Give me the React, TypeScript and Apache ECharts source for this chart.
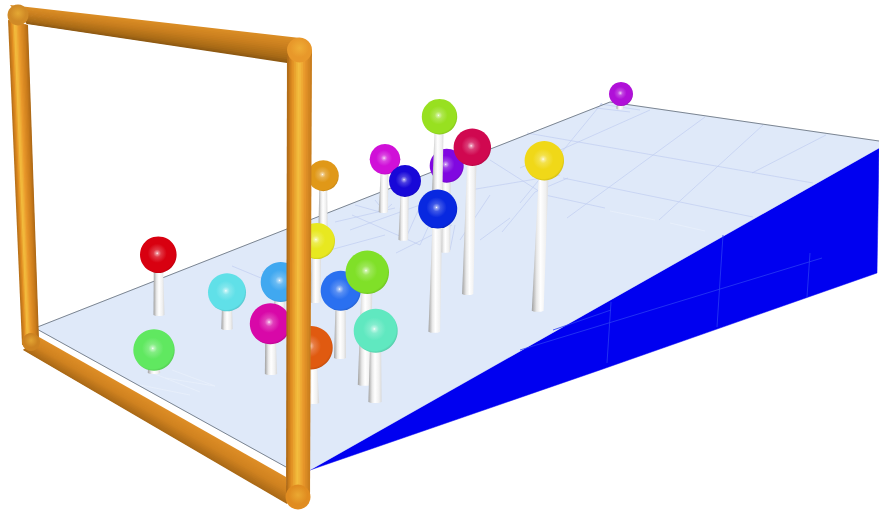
import React, { useEffect, useRef } from "react";
import * as echarts from "echarts";

const W = 879;
const H = 513;

// pin heads: position, radius, colour; stick foot position (back to front)
const pinNames = ["purple", "orange", "magenta", "violet", "limeTop", "navy", "crimson", "gold", "blue", "yellow", "sky", "red", "cyan", "azure", "lime", "ember", "fuchsia", "teal", "green"];
const headX = [621, 323.3, 385, 446.7, 439.5, 405, 472.3, 544.3, 437.7, 317, 280.7, 158.3, 227, 340.7, 367.3, 311, 270.3, 375.7, 154];
const headY = [94, 175.7, 159.3, 165.7, 116.7, 181, 147.3, 160.7, 209, 241, 282, 254.7, 292.3, 290.7, 272.3, 347.7, 323.7, 330.7, 350];
const headR = [12, 15.5, 15.3, 17, 17.7, 16, 18.7, 19.7, 19.5, 18, 20, 18.3, 19, 20, 21.7, 21.7, 20.5, 22, 20.7];
const footX = [620, 323, 383.3, 445, 437, 403.3, 467.7, 537.7, 434.3, 315, 279, 159, 227, 340, 364.3, 312.7, 271, 375, 154];
const footY = [109.5, 235, 213, 252.7, 200, 240.7, 295, 311.7, 332.7, 303, 320, 316, 330, 359, 385.7, 404, 375, 403, 374];
const headColor = ["#b010d8", "#e09818", "#d010d8", "#8008e0", "#98e020", "#1808d8", "#d00850", "#f0d818", "#0828e0", "#e8e820", "#40a8f0", "#d80010", "#60e0e8", "#2a70f0", "#80e028", "#e05a10", "#d808a8", "#60e8c0", "#60e860"];

// surfaces
const planeShape = [[35, 328], [610, 102], [879, 141], [879, 148], [310, 470], [286, 467]];
const wedgeShape = [[310, 470], [879, 148], [877, 273], [600, 370]];
const planeEdges = [[35, 328, 610, 102], [610, 102, 879, 141], [35, 328, 286, 467]];

// rules drawn on the surfaces
const planeRules = [
  [527, 133, 813, 183], [563, 178, 753, 217], [545, 195, 605, 208], [567, 218, 705, 117],
  [659, 220, 763, 125], [752, 173, 826, 135], [520, 203, 602, 103], [520, 168, 650, 110],
  [502, 232, 535, 192], [535, 192, 568, 178], [480, 240, 510, 218], [396, 253, 452, 225],
  [352, 215, 420, 245], [335, 222, 395, 208], [350, 230, 420, 205], [375, 200, 383, 210],
  [392, 204, 383, 212], [355, 205, 380, 212], [405, 240, 425, 195], [450, 250, 455, 225],
  [460, 240, 490, 195], [420, 245, 445, 190], [470, 190, 560, 175], [490, 160, 545, 195],
  [232, 266, 285, 288], [262, 272, 300, 258], [600, 104, 640, 110], [596, 108, 630, 112],
  [330, 250, 385, 235],
];
const paleRules = [
  [165, 378, 215, 386], [172, 370, 215, 386], [140, 385, 190, 395], [150, 372, 200, 392],
  [610, 211, 655, 220], [670, 223, 705, 231],
];
const wedgeRules = [
  [723, 235, 717, 327], [611, 302, 607, 363], [810, 253, 807, 297],
  [520, 350, 822, 258], [611, 310, 553, 330],
];

// frame tube: one edge start/end, other edge start/end
const frameTop = [10, 5, 300, 38, 27, 24, 287, 63];
const frameLeft = [8, 20, 22, 345, 28, 25, 39, 340];
const frameBottom = [39, 337, 286, 477, 23, 350, 287, 504];
const frameRight = [287, 50, 286, 500, 312, 50, 310, 500];
const frameBars = [frameTop, frameLeft, frameBottom, frameRight];
const barShades = [
  [[0, "#dc8e26"], [0.4, "#c87e1e"], [0.8, "#a86a16"], [1, "#8a5612"]],
  [[0, "#b06c18"], [0.18, "#e08c20"], [0.34, "#f4c040"], [0.55, "#e8962a"], [0.85, "#c87a1a"], [1, "#a86616"]],
  [[0, "#de8e26"], [0.5, "#d08220"], [1, "#a86816"]],
  [[0, "#a86616"], [0.2, "#e08c20"], [0.48, "#f4c040"], [0.72, "#e8962a"], [1, "#c47a1c"]],
];
const capX = [18, 31, 299.5, 298];
const capY = [15, 342, 50, 497];
const capR = [10.5, 9, 12.5, 12.5];
const capColor = ["#d08a26", "#cc8220", "#e8982a", "#e08c20"];

function hexRgb(h: string) {
  return [1, 3, 5].map((i) => parseInt(h.slice(i, i + 2), 16));
}
function mix(a: string, b: string, t: number) {
  const p = hexRgb(a);
  const q = hexRgb(b);
  return "rgb(" + p.map((v, i) => Math.round(v + (q[i] - v) * t)).join(",") + ")";
}
function shadeAt(stops: any[], t: number) {
  for (let i = 1; i < stops.length; i++) {
    if (t <= stops[i][0]) {
      const k = (t - stops[i - 1][0]) / (stops[i][0] - stops[i - 1][0]);
      return mix(stops[i - 1][1], stops[i][1], k);
    }
  }
  return stops[stops.length - 1][1];
}

export default function App() {
  const ref = useRef<HTMLDivElement>(null);
  useEffect(() => {
    document.body.style.margin = "0";
    const chart = echarts.init(ref.current!, null, { renderer: "svg" });

    const polySeries = (rows: any[], z: number) => ({
      type: "custom",
      coordinateSystem: "cartesian2d",
      silent: true,
      z,
      data: rows.map((r, i) => [i, 0]),
      renderItem: (p: any, api: any) => {
        const r = rows[p.dataIndex];
        return {
          type: "polygon",
          shape: { points: r.points.map((q: number[]) => api.coord(q)) },
          style: { fill: r.fill, stroke: r.fill, lineWidth: r.seam || 0.5 },
        };
      },
    });
    const ruleSeries = (rows: number[][], color: string, width: number, z: number, dash?: number[]) => ({
      type: "custom",
      coordinateSystem: "cartesian2d",
      silent: true,
      z,
      data: rows,
      renderItem: (_: any, api: any) => {
        const a = api.coord([api.value(0), api.value(1)]);
        const b = api.coord([api.value(2), api.value(3)]);
        return {
          type: "line",
          shape: { x1: a[0], y1: a[1], x2: b[0], y2: b[1] },
          style: { stroke: color, lineWidth: width, lineDash: dash, fill: null },
        };
      },
    });

    const pinRows = pinNames.map((n, i) => [headX[i], headY[i], headR[i], footX[i], footY[i], n]);
    const pinSeries = {
      type: "custom",
      coordinateSystem: "cartesian2d",
      silent: true,
      z: 5,
      data: pinRows,
      renderItem: (p: any, api: any) => {
        const c = api.coord([api.value(0), api.value(1)]);
        const f = api.coord([api.value(3), api.value(4)]);
        const r = api.size([api.value(2), 0])[0];
        const col = headColor[p.dataIndex];
        const topW = r * 0.24;
        const footW = r * 0.3;
        const stick = new echarts.graphic.LinearGradient(0, 0, 1, 0, [
          { offset: 0, color: "#a0a0a0" },
          { offset: 0.28, color: "#e8e8e8" },
          { offset: 0.5, color: "#ffffff" },
          { offset: 0.8, color: "#f0f0f0" },
          { offset: 1, color: "#d8d8d8" },
        ]);
        const ball = new echarts.graphic.RadialGradient(0.47, 0.46, 0.58, [
          { offset: 0, color: "#ffffff" },
          { offset: 0.05, color: mix(col, "#ffffff", 0.6) },
          { offset: 0.18, color: mix(col, "#ffffff", 0.22) },
          { offset: 0.45, color: col },
          { offset: 0.85, color: col },
          { offset: 1, color: mix(col, "#000000", 0.2) },
        ]);
        return {
          type: "group",
          children: [
            {
              type: "polygon",
              shape: {
                points: [
                  [c[0] - topW, c[1]],
                  [c[0] + topW, c[1]],
                  [f[0] + footW, f[1] - 1],
                  [f[0] + footW * 0.6, f[1]],
                  [f[0] - footW * 0.6, f[1]],
                  [f[0] - footW, f[1] - 1],
                ],
              },
              style: { fill: stick },
            },
            { type: "circle", shape: { cx: c[0], cy: c[1], r }, style: { fill: ball } },
          ],
        };
      },
    };

    const strips: any[] = [];
    frameBars.forEach((b, k) => {
      const n = 14;
      for (let i = 0; i < n; i++) {
        const t0 = i / n;
        const t1 = Math.min(1, (i + 1.6) / n);
        const lerp = (u: number, v: number, t: number) => u + (v - u) * t;
        strips.push({
          points: [
            [lerp(b[0], b[4], t0), lerp(b[1], b[5], t0)],
            [lerp(b[2], b[6], t0), lerp(b[3], b[7], t0)],
            [lerp(b[2], b[6], t1), lerp(b[3], b[7], t1)],
            [lerp(b[0], b[4], t1), lerp(b[1], b[5], t1)],
          ],
          fill: shadeAt(barShades[k], (i + 0.5) / n),
          seam: 0.01,
        });
      }
    });

    const capSeries = {
      type: "custom",
      coordinateSystem: "cartesian2d",
      silent: true,
      z: 8,
      data: capX.map((x, i) => [x, capY[i], capR[i]]),
      renderItem: (p: any, api: any) => {
        const c = api.coord([api.value(0), api.value(1)]);
        const col = capColor[p.dataIndex];
        return {
          type: "circle",
          shape: { cx: c[0], cy: c[1], r: api.size([api.value(2), 0])[0] },
          style: {
            fill: new echarts.graphic.RadialGradient(0.5, 0.42, 0.5, [
              { offset: 0, color: mix(col, "#f4c040", 0.55) },
              { offset: 0.75, color: col },
              { offset: 1, color: col },
            ]),
          },
        };
      },
    };

    chart.setOption({
      animation: false,
      backgroundColor: "#ffffff",
      grid: { left: 0, right: 0, top: 0, bottom: 0 },
      xAxis: { type: "value", min: 0, max: W, show: false },
      yAxis: { type: "value", min: 0, max: H, inverse: true, show: false },
      series: [
        polySeries([{ points: wedgeShape, fill: "#0000f0" }, { points: planeShape, fill: "#dfe9f9" }], 1),
        ruleSeries(wedgeRules, "#2a3cf2", 0.8, 2),
        ruleSeries(planeRules, "#c0cdf0", 0.7, 2),
        ruleSeries(paleRules, "#e9f0fb", 0.8, 2),
        ruleSeries(planeEdges, "#6e7884", 0.9, 3),
        pinSeries,
        polySeries(strips, 7),
        capSeries,
      ],
    });
    return () => chart.dispose();
  }, []);
  return <div ref={ref} style={{ width: W, height: H }} />;
}
